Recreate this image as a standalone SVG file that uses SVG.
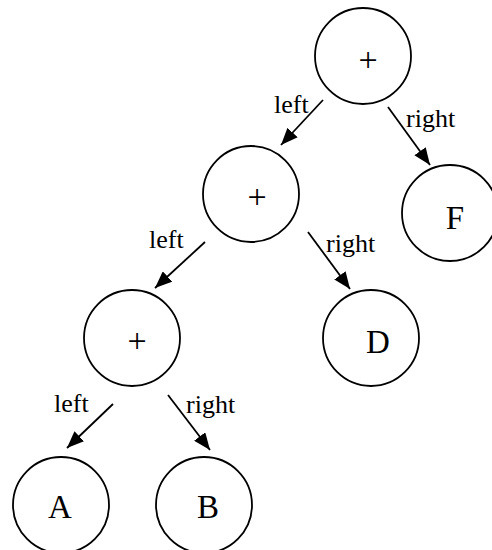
<svg xmlns="http://www.w3.org/2000/svg" width="492" height="550" viewBox="0 0 492 550">
<defs>
<style>
.node circle{fill:#fff;stroke:#000;stroke-width:1.8}
.node text{font-family:"Liberation Serif",serif;font-size:33px;text-anchor:middle;fill:#000}
.node text.op{font-size:34px}
.edges line{stroke:#000;stroke-width:1.8}
.lbl{font-family:"Liberation Serif",serif;font-size:26px;fill:#000}
</style>
<marker id="ah" markerUnits="userSpaceOnUse" markerWidth="18" markerHeight="14" refX="17" refY="7" orient="auto">
<path d="M0,0 L17,7 L0,14 Z" fill="#000"/>
</marker>
</defs>
<rect width="492" height="550" fill="#fff"/>
<g class="edges">
<line x1="323" y1="100" x2="281" y2="145" marker-end="url(#ah)"/>
<line x1="388" y1="107" x2="430" y2="165" marker-end="url(#ah)"/>
<line x1="205" y1="242" x2="155" y2="288" marker-end="url(#ah)"/>
<line x1="308" y1="232" x2="350" y2="289" marker-end="url(#ah)"/>
<line x1="113" y1="404" x2="67" y2="448" marker-end="url(#ah)"/>
<line x1="168" y1="395" x2="210" y2="450" marker-end="url(#ah)"/>
<text class="lbl" x="274" y="113">left</text>
<text class="lbl" x="406" y="127">right</text>
<text class="lbl" x="149" y="248">left</text>
<text class="lbl" x="326" y="252">right</text>
<text class="lbl" x="54" y="412">left</text>
<text class="lbl" x="186" y="413">right</text>
</g>
<g id="n-root" class="node"><circle cx="363" cy="56" r="48"/><text class="op" x="368" y="71">+</text></g>
<g id="n-plus2" class="node"><circle cx="251" cy="194" r="48"/><text class="op" x="257" y="208">+</text></g>
<g id="n-plus3" class="node"><circle cx="132" cy="338" r="48"/><text class="op" x="137" y="352">+</text></g>
<g id="n-F" class="node"><circle cx="450" cy="213" r="48"/><text x="455" y="229">F</text></g>
<g id="n-D" class="node"><circle cx="371" cy="338" r="48"/><text x="378" y="353">D</text></g>
<g id="n-A" class="node"><circle cx="61" cy="505" r="48"/><text x="60" y="518">A</text></g>
<g id="n-B" class="node"><circle cx="204" cy="505" r="48"/><text x="208" y="518">B</text></g>
</svg>
